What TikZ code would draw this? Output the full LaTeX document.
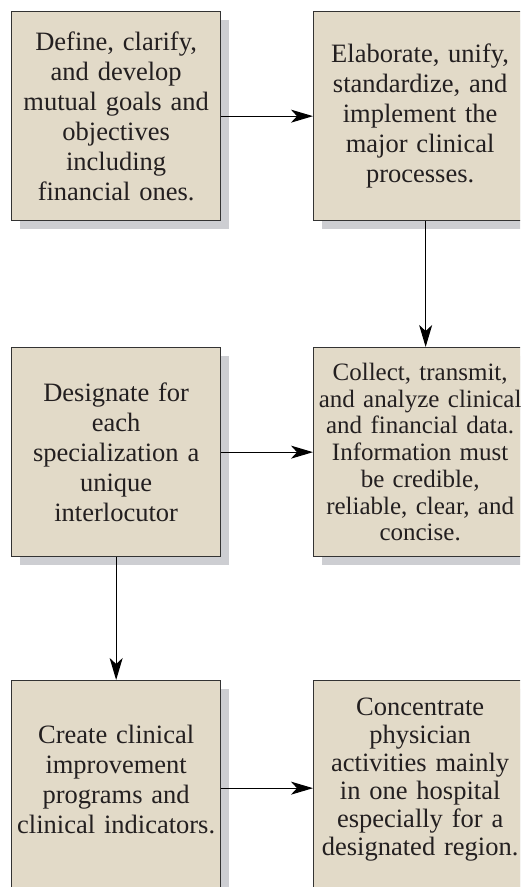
\documentclass[tikz,border=0pt]{standalone}
\usepackage{fontspec}
\setmainfont{Liberation Serif}
\usetikzlibrary{arrows.meta,shadows}
\definecolor{boxfill}{HTML}{E2DAC8}
\definecolor{shadowgray}{HTML}{CDCED2}
\definecolor{edgegray}{HTML}{333333}
\definecolor{inkcol}{HTML}{231F20}
\begin{document}
\begin{tikzpicture}[x=1pt,y=-1pt,
  stepbox/.style={draw=edgegray, line width=1.3pt, fill=boxfill, text=inkcol,
    minimum width=209pt, minimum height=209pt, text width=209pt,
    align=center, inner sep=0pt, anchor=north west,
    font=\fontsize{26.5}{30}\selectfont,
    drop shadow={shadow xshift=8pt, shadow yshift=-8pt, fill=shadowgray, opacity=1}},
  rightbox/.style={text width=213pt},
  conn/.style={draw=black, line width=1.1pt, -{Stealth[length=22pt,width=13pt,inset=6pt]}}]
\useasboundingbox (0,0) rectangle (520,887);
\clip (0,0) rectangle (520,887);
\node[stepbox] (a) at (11,11) {Define, clarify,\\and develop\\mutual goals and\\objectives\\including\\financial ones.};
\node[stepbox, rightbox] (b) at (313,11) {Elaborate, unify,\\standardize, and\\implement the\\major clinical\\processes.};
\node[stepbox] (c) at (11,347) {Designate for\\each\\specialization a\\unique\\interlocutor};
\node[stepbox, rightbox, font=\fontsize{25}{26.7}\selectfont] (d) at (313,347) {Collect, transmit,\\and analyze clinical\\and financial data.\\Information must\\be credible,\\reliable, clear, and\\concise.};
\node[stepbox, minimum height=215pt] (e) at (11,680) {Create clinical\\improvement\\programs and\\clinical indicators.\par\vspace*{17pt}};
\node[stepbox, rightbox, minimum height=215pt, font=\fontsize{26.5}{28}\selectfont] (f) at (313,680) {Concentrate\\physician\\activities mainly\\in one hospital\\especially for a\\designated region.\par\vspace*{17pt}};
\draw[conn] (a) -- (b);
\draw[conn] ([xshift=5.5pt]b.south) -- ([xshift=5.5pt]d.north);
\draw[conn] (c) -- (d);
\draw[conn] (c) -- (e);
\draw[conn] (e) -- (f);
\end{tikzpicture}
\end{document}
